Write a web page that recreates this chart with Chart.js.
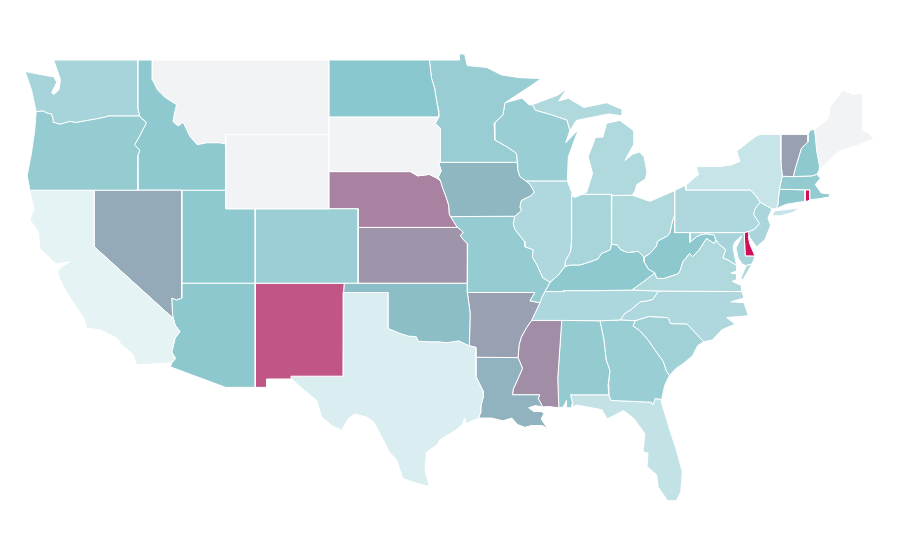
<!DOCTYPE html>
<html>
<head>
<meta charset="utf-8">
<title>US states</title>
<script src="https://cdn.jsdelivr.net/npm/chart.js@4"></script>
<style>
html, body { margin: 0; background: #fff; }
canvas { display: block; }
</style>
</head>
<body>
<canvas id="mapa" width="900" height="560"></canvas>
<script>
// shared borders, [lon, lat]
var waOr = [[-123.95,46.22],[-123.5,46.27],[-123.2,46.15],[-122.9,46.1],[-122.8,45.85],[-122.75,45.65],[-122.3,45.55],[-121.7,45.7],[-121.2,45.65],[-120.6,45.74],[-120,45.82],[-119.3,45.93],[-119,46],[-116.92,46]];
var idWa = [[-117.04,49],[-117.04,46.42],[-116.92,46]];
var idOr = [[-116.92,46],[-116.78,45.85],[-116.55,45.72],[-116.46,45.6],[-116.67,45.3],[-116.85,45],[-117.25,44.45],[-117.03,44.25],[-116.9,44.15],[-117.05,43.83],[-117.03,42]];
var idMt = [[-116.05,49],[-116.05,47.95],[-115.7,47.4],[-115.2,47],[-114.4,46.6],[-114.55,46.1],[-114.65,45.7],[-114.3,45.45],[-113.95,45.65],[-113.5,44.9],[-113,44.45],[-112.3,44.55],[-111.5,44.55],[-111.05,44.48]];
var caCoast = [[-124.38,42],[-124.25,41.5],[-124.1,41.03],[-124.37,40.4],[-123.8,39.77],[-123.7,38.87],[-122.67,38.07],[-122.45,38.05],[-121.67,38.15],[-122.2,37.9],[-122.5,37.6],[-122.33,37.2],[-121.9,36.55],[-121.3,35.8],[-120.75,35.2],[-120.5,34.57],[-119.6,34.5],[-118.47,34.05],[-118.2,33.75],[-117.35,33.15],[-117.12,32.6]];
var azCa = [[-114.62,35.1],[-114.5,34.75],[-114.17,34.4],[-114.5,34.05],[-114.73,33.3],[-114.47,32.95],[-114.73,32.72]];
var nvAz = [[-114.05,37],[-114.05,36.2],[-114.4,36.1],[-114.73,36.2],[-114.67,35.3],[-114.62,35.1]];
var redRiver = [[-100,34.56],[-99.5,34.4],[-99.2,34.3],[-98.6,34.15],[-98.1,34.13],[-97.95,33.88],[-97.2,33.85],[-96.6,33.85],[-96,33.8],[-95.2,33.9],[-94.48,33.63]];
var sabine = [[-94.04,33.02],[-94.04,32],[-93.8,31.6],[-93.55,31.2],[-93.53,30.9],[-93.7,30.4],[-93.72,30.05],[-93.85,29.75]];
var txCoast = [[-93.85,29.75],[-94.7,29.45],[-94.8,29.75],[-94.95,29.4],[-95.5,29.05],[-96.45,28.6],[-96.7,28.3],[-97.4,27.9],[-97.5,26.96],[-97.2,26.06],[-98.3,26.3],[-99,26.5],[-99.43,27.5],[-99.9,27.9],[-100.56,28.9],[-101,29.55],[-101.47,29.8],[-102.27,29.97],[-102.7,29.75],[-103.17,29.1],[-103.76,29.3],[-104.53,29.8],[-104.87,30.7],[-105.45,31.07],[-106.23,31.6],[-106.7,31.97]];
var ksMo = [[-95.3,40],[-95.05,39.85],[-94.9,39.75],[-95.1,39.55],[-94.9,39.35],[-94.6,39.1],[-94.62,37]];
var neIa = [[-96.45,42.5],[-96.3,42.1],[-96.1,41.7],[-95.9,41.2],[-95.85,40.7],[-95.77,40.58]];
var neMo = [[-95.77,40.58],[-95.55,40.3],[-95.3,40]];
var sdNe = [[-98.5,43],[-98,42.77],[-97.2,42.85],[-96.7,42.65],[-96.45,42.5]];
var sdMn = [[-96.56,45.94],[-96.8,45.6],[-96.45,45.3],[-96.45,43.5]];
var sdIa = [[-96.45,43.5],[-96.55,43.4],[-96.4,43.05],[-96.6,42.7],[-96.45,42.5]];
var ndMn = [[-97.2,49],[-97.13,48.5],[-97.05,48],[-96.85,47.5],[-96.75,47],[-96.6,46.3],[-96.56,45.94]];
var iaWi = [[-91.22,43.5],[-91.2,43.1],[-91.05,42.73],[-90.65,42.5]];
var iaIl = [[-90.65,42.5],[-90.35,42.3],[-90.07,41.9],[-90.3,41.7],[-90.95,41.45],[-91.05,41.1],[-90.95,40.9],[-91.4,40.6]];
var mnWi = [[-92.06,46.7],[-92.2,46.04],[-92.8,45.6],[-92.75,45.3],[-92.75,44.7],[-91.95,44.34],[-91.28,43.98],[-91.22,43.5]];
var wiMi = [[-90.2,46.6],[-90,46.3],[-88.9,46.05],[-87.85,45.77],[-87.65,45.2]];
var ilMo = [[-91.4,40.6],[-91.5,40.2],[-91.4,39.9],[-90.75,39.25],[-90.7,38.95],[-90.15,38.8],[-90.2,38.4],[-89.9,38],[-89.5,37.3],[-89,37.05]];
var ilIn = [[-87.53,41.7],[-87.53,39.35],[-87.6,38.7],[-87.95,38.2],[-87.98,37.9]];
var ilKy = [[-87.98,37.9],[-88.43,37.44],[-89,37.05]];
var inKy = [[-87.98,37.9],[-87.6,37.98],[-86.96,37.98],[-86.28,38.15],[-85.75,38.3],[-85.5,38.6],[-84.9,38.8],[-84.82,39.1]];
var kyOh = [[-84.82,39.1],[-84.4,39.05],[-84.2,38.8],[-83.7,38.65],[-83,38.72],[-82.6,38.4]];
var ohWv = [[-82.6,38.4],[-82.2,38.6],[-81.75,39],[-81.7,39.25],[-81,39.55],[-80.85,39.7],[-80.65,40.4],[-80.52,40.64]];
var kyWv = [[-82.6,38.4],[-82.6,38.15],[-82.3,37.75],[-81.87,37.55]];
var kyVa = [[-81.87,37.55],[-82.7,37.05],[-83.44,36.63]];
var vaWv = [[-81.87,37.55],[-81.74,37.26],[-81.25,37.25],[-80.3,37.5],[-80.16,37.65],[-79.95,38.15],[-79.5,38.6],[-79.3,38.42],[-78.87,38.77],[-78.35,39.4],[-77.83,39.13],[-77.72,39.32]];
var wvMd = [[-79.48,39.72],[-79.48,39.2],[-79.05,39.48],[-78.75,39.6],[-78.35,39.65],[-77.85,39.6],[-77.72,39.32]];
var vaMd = [[-77.72,39.32],[-77.5,39.1],[-77.05,38.8],[-77.25,38.35],[-76.9,38.25],[-76.3,37.95]];
var ncSc = [[-78.55,33.85],[-79.67,34.8],[-80.8,34.82],[-80.93,35.1],[-81.04,35.15],[-82.3,35.2],[-83.2,34.98]];
var ncTn = [[-84.24,35.02],[-83.9,35.38],[-83.5,35.57],[-82.87,36],[-82.4,36.05],[-82,36.13],[-81.63,36.57]];
var arTn = [[-89.68,35.95],[-90.02,35.38],[-90.25,35]];
var arMs = [[-90.25,35],[-90.6,34.6],[-90.95,34.1],[-91.1,33.7],[-91.17,33]];
var laMs = [[-91.17,33],[-90.87,32.42],[-91.1,32],[-91.5,31.3],[-91.55,31]];
var alGa = [[-85.6,34.98],[-85.33,33.95],[-85.18,32.87],[-84.92,32.3],[-85.05,31.5],[-85,31]];
var gaSc = [[-83.2,34.98],[-83.35,34.7],[-82.9,34.45],[-82.33,33.95],[-81.9,33.45],[-81.3,32.8],[-81.1,32.3],[-80.88,32.03]];
var gaFl = [[-85,31],[-84.85,30.7],[-82.1,30.6],[-82,30.45],[-81.85,30.8],[-81.4,30.75]];
var paNj = [[-74.7,41.35],[-75.05,41],[-75.15,40.7],[-74.75,40.2],[-75.1,39.9],[-75.42,39.8]];
var vtNh = [[-71.45,45],[-71.45,44.6],[-71.9,44.25],[-72.3,43.2],[-72.45,42.73]];
var nhMe = [[-71,45.25],[-70.85,44.07],[-70.66,43.3],[-70.7,43.07]];

function rev(a) { return a.slice().reverse(); }
function join() { return [].concat.apply([], arguments); }

var stateNames = ['Washington','Oregon','California','Nevada','Idaho','Montana','Wyoming','Utah','Arizona','Colorado','New Mexico','North Dakota','South Dakota','Nebraska','Kansas','Oklahoma','Texas','Minnesota','Iowa','Missouri','Arkansas','Louisiana','Wisconsin','Illinois','Michigan','Indiana','Ohio','Kentucky','Tennessee','Mississippi','Alabama','Georgia','Florida','South Carolina','North Carolina','Virginia','West Virginia','Pennsylvania','New York','Vermont','New Hampshire','Maine','Massachusetts','Connecticut','New Jersey','Maryland','Delaware','Rhode Island'];
// null = sin datos
var stateValues = [35,44,2,61,47,null,null,47,48,40,85,49,null,73,68,53,8,43,56,44,65,58,42,31,30,34,30,47,32,70,45,41,20,38,31,30,48,31,18,65,47,null,45,48,33,35,100,100];

var stateShapes = [
  // WA
  [join([[-122.75,49]], idWa, rev(waOr), [[-124.27,47.4],[-124.7,48.38],[-123.2,48.15],[-122.75,48.1],[-122.55,47.8],[-122.9,47.25],[-122.75,47.15],[-122.4,47.4],[-122.3,47.95],[-122.5,48.4]])],
  // OR
  [join(waOr, idOr, [[-124.38,42],[-124.56,42.8],[-124.27,44],[-124.05,45.2]])],
  // CA
  [join(caCoast, [[-114.73,32.72]], rev(azCa), [[-120,38.96],[-120,42]])],
  // NV
  [join([[-120,42],[-114.04,42]], nvAz, [[-120,38.96]])],
  // ID
  [join(idMt, [[-111.05,42],[-117.03,42]], rev(idOr), rev(idWa))],
  // MT
  [join([[-116.05,49],[-104.05,49],[-104.05,45],[-111.05,45]], rev(idMt))],
  // WY
  [[[-111.05,45],[-104.05,45],[-104.05,41],[-111.05,41]]],
  // UT
  [[[-114.04,42],[-111.05,42],[-111.05,41],[-109.05,41],[-109.05,37],[-114.05,37]]],
  // AZ
  [join([[-114.05,37],[-109.05,37],[-109.05,31.4],[-111.07,31.4],[-114.81,32.5]], rev(azCa), rev(nvAz))],
  // CO
  [[[-109.05,41],[-102.05,41],[-102.05,37],[-109.05,37]]],
  // NM
  [[[-109.05,37],[-103,37],[-103.04,36.5],[-103.06,32],[-106.62,32],[-106.6,31.85],[-108.27,31.85],[-108.27,31.4],[-109.05,31.4]]],
  // ND
  [join([[-104.05,49]], ndMn, [[-104.05,45.94]])],
  // SD
  [join([[-104.05,45.94]], sdMn, sdIa, rev(sdNe), [[-104.05,43]])],
  // NE
  [join([[-104.05,43]], sdNe, neIa, neMo, [[-102.05,40],[-102.05,41],[-104.05,41]])],
  // KS
  [join([[-102.05,40]], ksMo, [[-102.05,37]])],
  // OK
  [join([[-103,37],[-94.62,37],[-94.62,36.5],[-94.43,35.4]], rev(redRiver), [[-100,36.5],[-103.04,36.5]])],
  // TX
  [join([[-103.04,36.5],[-100,36.5]], redRiver, [[-94.04,33.55]], sabine, txCoast, [[-106.62,32],[-103.06,32]])],
  // MN
  [join([[-97.2,49],[-95.15,49],[-95.15,49.35],[-94.8,49.3],[-94.63,48.7],[-93.3,48.6],[-92.3,48.2],[-91.05,48.05],[-89.6,48],[-90.4,47.56]], mnWi, [[-96.45,43.5]], rev(sdMn), rev(ndMn))],
  // IA
  [join([[-96.45,43.5]], iaWi, iaIl, [[-95.77,40.58]], rev(neIa), rev(sdIa))],
  // MO
  [join(rev(neMo), [[-95.77,40.58]], ilMo, [[-89.34,36.55],[-89.55,36.25],[-89.68,35.95],[-90.36,36.05],[-90.02,36.5],[-94.62,36.5]], rev(ksMo))],
  // AR
  [join([[-94.62,36.5],[-90.02,36.5],[-90.36,36.05]], arTn, arMs, [[-94.04,33.02],[-94.04,33.55],[-94.48,33.63],[-94.43,35.4]])],
  // LA
  [join([[-94.04,33.02]], laMs, [[-89.7,31],[-89.8,30.8],[-89.5,30.35],[-90,30.42],[-90.45,30.3],[-90.1,30.1],[-89.6,30.1],[-89.4,30],[-89.6,29.7],[-89.13,29.15],[-89.5,29.35],[-90.25,29.35],[-90.7,29.25],[-91.2,29.4],[-91.6,29.75],[-92.2,29.6],[-92.96,29.75],[-93.85,29.75]], rev(sabine))],
  // WI
  [join([[-92.06,46.7],[-90.9,46.95],[-90.4,46.58]], wiMi, [[-87.93,44.55],[-87.07,45.25],[-87.46,44.43],[-87.75,43.8],[-87.82,42.5],[-90.65,42.5]], rev(iaWi), rev(mnWi))],
  // IL
  [join([[-90.65,42.5],[-87.82,42.5],[-87.5,41.85]], ilIn, ilKy, rev(ilMo), rev(iaIl))],
  // MI, peninsula alta y baja
  [join(wiMi, [[-87.2,45.75],[-86.3,45.9],[-85,46.1],[-84.1,46],[-84.1,46.35],[-85.15,46.7],[-86.7,46.45],[-87.75,46.95],[-88.4,46.8],[-87.85,47.45],[-88.5,47.1]]),
   [[-86.8,41.78],[-84.8,41.78],[-84.8,41.72],[-83.4,41.73],[-83.2,42],[-83.1,42.3],[-82.5,42.6],[-82.4,43],[-82.6,43.8],[-82.9,44.05],[-83.35,43.95],[-83.9,43.6],[-83.35,44.4],[-83.3,45.2],[-84.25,45.75],[-85.15,45.6],[-85.4,44.85],[-85.9,44.85],[-86.4,43.8],[-86.1,42.9],[-86.5,41.9]]],
  // IN
  [join([[-87.53,41.7],[-87.3,41.62],[-86.8,41.78],[-84.8,41.78]], rev(inKy), rev(ilIn))],
  // OH
  [join([[-84.8,41.72],[-83.4,41.73],[-82.2,41.4],[-80.52,41.98]], rev(ohWv), rev(kyOh))],
  // KY
  [join(inKy, kyOh, kyWv, kyVa, [[-86,36.6],[-88.07,36.6],[-88.07,36.55],[-89.34,36.55]], rev(ilKy))],
  // TN
  [join([[-89.34,36.55],[-88.07,36.55],[-88.07,36.6],[-86,36.6],[-83.44,36.63]], rev(ncTn), [[-85.6,34.98],[-88.2,35]], rev(arTn), [[-89.55,36.25]])],
  // MS
  [join(arMs.slice(0,1), [[-88.2,35],[-88.47,31.9],[-88.4,30.3],[-89.1,30.37],[-89.5,30.35],[-89.8,30.8],[-89.7,31]], rev(laMs), rev(arMs))],
  // AL
  [join([[-88.2,35]], alGa, [[-87.6,31],[-87.45,30.5],[-87.5,30.3],[-87.9,30.3],[-87.87,30.7],[-88.1,30.35],[-88.4,30.3],[-88.47,31.9]])],
  // GA
  [join([[-85.6,34.98],[-84.24,35.02]], gaSc, [[-81.2,31.5]], rev(gaFl), rev(alGa))],
  // FL
  [join([[-87.6,31]], gaFl, [[-81.4,30.55],[-80.84,29.1],[-80.35,27.9],[-80,26.87],[-80.1,25.8],[-80.4,25.3],[-81,25.3],[-81.65,26.06],[-81.74,26.7],[-82.4,27.14],[-82.33,27.86],[-82.67,27.94],[-82.54,28.9],[-83.3,29.73],[-84,30.15],[-85.1,29.7],[-85.47,30.2],[-87.2,30.45],[-87.5,30.3],[-87.45,30.5]])],
  // SC
  [join(ncSc, gaSc, [[-80.45,32.4],[-79.9,32.7],[-79.3,33.1],[-78.95,33.65]])],
  // NC
  [join(ncTn, [[-75.95,36.55],[-75.8,36.2],[-76.7,36],[-75.8,35.95],[-75.5,35.25],[-76.98,35.15],[-76.4,34.8],[-77.3,34.5],[-77.95,33.95]], ncSc, [[-84.24,35.02]])],
  // VA, con la costa este aparte
  [join(vaWv, vaMd, [[-76.3,37.65],[-76.7,37.55],[-76.3,37.5],[-76.3,37.2],[-76.6,37.1],[-76.35,37],[-76,36.9],[-75.95,36.55],[-81.63,36.57],[-83.44,36.63]], rev(kyVa)),
   [[-75.65,37.95],[-75.25,38.03],[-75.9,37.15],[-76,37.3]]],
  // WV
  [join([[-80.52,40.64],[-80.52,39.72]], wvMd, rev(vaWv), rev(kyWv), ohWv)],
  // PA
  [join([[-80.52,41.98],[-79.76,42.27],[-79.76,42],[-75.35,42],[-75.05,41.75]], paNj, [[-75.79,39.72],[-80.52,39.72]])],
  // NY, con Long Island
  [[[-79.76,42.27],[-78.9,42.85],[-79.05,43.27],[-77.5,43.27],[-76.7,43.35],[-76.07,43.55],[-76.3,44.1],[-75.05,44.87],[-74.7,45],[-73.3,45],[-73.3,43.6],[-73.2,42.75],[-73.4,42.05],[-73.5,41.2],[-73.65,41],[-73.9,41],[-74.7,41.35],[-75.05,41.75],[-75.35,42],[-79.76,42]],
   [[-73.9,40.62],[-73.7,40.9],[-72.8,40.97],[-72,41.05],[-72.5,40.8],[-73.3,40.63]]],
  // VT
  [join([[-73.3,45]], vtNh, [[-73.2,42.75],[-73.3,43.6]])],
  // NH
  [join(vtNh.slice(0,1), [[-71.27,45.25]], nhMe, [[-70.85,42.85],[-71.2,42.77],[-72.45,42.73]], rev(vtNh))],
  // ME
  [join(rev(nhMe), [[-71,45.25],[-70.45,45.6],[-70.05,45.87],[-69.95,46.5],[-69.5,46.95],[-69.27,47.2],[-69.05,47.4],[-68.4,47.15],[-67.95,47.2],[-67.7,47.1],[-67.7,45.2],[-67.35,45.1],[-66.95,44.75],[-67.5,44.6],[-68.1,44.4],[-68.75,44.25],[-69.4,44.07],[-70,43.6],[-70.55,43.2]])],
  // MA
  [[[-73.2,42.75],[-72.45,42.73],[-71.2,42.77],[-70.85,42.85],[-70.6,42.65],[-70.95,42.3],[-70.55,41.85],[-70,41.8],[-69.95,41.65],[-70.6,41.55],[-71.15,41.5],[-71.32,41.5],[-71.32,42.02],[-73.4,42.05]]],
  // CT
  [[[-73.4,42.05],[-71.65,42.02],[-71.65,41.4],[-72.9,41.25],[-73.65,41],[-73.5,41.2]]],
  // NJ
  [join([[-74.7,41.35],[-73.9,41],[-74.17,40.5],[-74,40.1],[-74.37,39.35],[-74.95,38.95],[-75.4,39.45],[-75.5,39.7]], rev(paNj))],
  // MD
  [join([[-79.48,39.72],[-75.79,39.72],[-75.72,38.46],[-75.05,38.45],[-75.25,38.03],[-75.65,37.95],[-75.9,38],[-76.2,38.35],[-76.35,38.9],[-76.05,39.35],[-75.95,39.55],[-76.45,39.2],[-76.55,38.9],[-76.4,38.3]], rev(vaMd), rev(wvMd))],
  // DE
  [[[-75.79,39.72],[-75.42,39.8],[-75.5,39.45],[-75.4,39.1],[-75.05,38.45],[-75.72,38.46]]],
  // RI
  [[[-71.65,42.02],[-71.32,42.02],[-71.32,41.5],[-71.45,41.42],[-71.65,41.4]]]
];

var noDataColor = [242, 243, 245];
var rampStops = [0, 50, 65, 85, 100];
var rampColors = [[234,245,247],[137,198,205],[152,160,178],[192,85,134],[210,16,90]];

function colorDe(valor) {
    if (valor === null) return 'rgb(' + noDataColor.join(',') + ')';
    var i = 0;
    while (i < rampStops.length - 2 && valor > rampStops[i + 1]) i++;
    var t = (valor - rampStops[i]) / (rampStops[i + 1] - rampStops[i]);
    var c = rampColors[i].map(function (v, k) {
        return Math.round(v + (rampColors[i + 1][k] - v) * t);
    });
    return 'rgb(' + c.join(',') + ')';
}

var datasets = [];
stateNames.forEach(function (nombre, i) {
    stateShapes[i].forEach(function (poly) {
        var puntos = poly.concat([poly[0]]).map(function (p) {
            return { x: p[0], y: p[1] };
        });
        datasets.push({
            label: nombre,
            data: puntos,
            showLine: true,
            fill: 'shape',
            backgroundColor: colorDe(stateValues[i]),
            borderColor: '#fff',
            borderWidth: 1,
            borderJoinStyle: 'round',
            pointRadius: 0,
            pointHoverRadius: 0,
            tension: 0
        });
    });
});

new Chart(document.getElementById('mapa').getContext('2d'), {
    type: 'scatter',
    data: { datasets: datasets },
    options: {
        responsive: false,
        animation: false,
        layout: { padding: 0 },
        plugins: {
            legend: { display: false },
            tooltip: { enabled: false }
        },
        scales: {
            x: { type: 'linear', display: false, min: -126.41, max: -65.19 },
            y: { type: 'linear', display: false, min: 22.118, max: 52.226 }
        }
    }
});
</script>
</body>
</html>
